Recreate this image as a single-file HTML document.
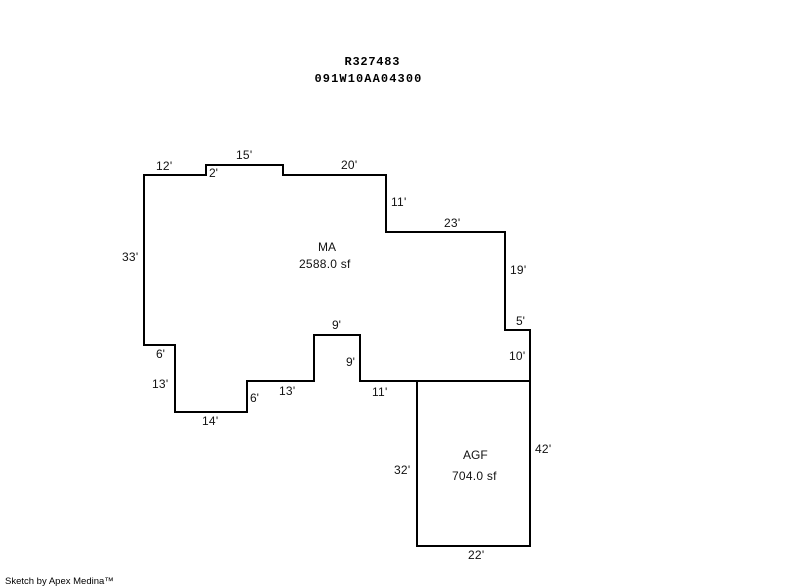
<!DOCTYPE html>
<html>
<head>
<meta charset="utf-8">
<style>
html,body{margin:0;padding:0;background:#fff;width:800px;height:587px;overflow:hidden}
svg{display:block}
text{font-family:"Liberation Sans",Arial,sans-serif;font-size:12px;fill:#111}
.t{font-family:"Liberation Mono",monospace;font-size:12px;font-weight:bold;letter-spacing:1.1px;fill:#000}
.a{letter-spacing:.25px}
.s{font-size:9.5px;fill:#000}
</style>
</head>
<body>
<svg width="800" height="587" viewBox="0 0 800 587" xmlns="http://www.w3.org/2000/svg">
<g fill="none" stroke="#000" stroke-width="2" shape-rendering="crispEdges">
<path d="M144 175H206V165H283V175H386V232H505V330H530V381H360V335H314V381H247V412H175V345H144Z"/>
<path d="M417 381H530V546H417Z"/>
</g>
<text class="t" x="344.5" y="65" textLength="56">R327483</text>
<text class="t" x="314.5" y="82">091W10AA04300</text>
<text class="a" x="156" y="170">12'</text>
<text class="a" x="236" y="159">15'</text>
<text x="209" y="177">2'</text>
<text class="a" x="341" y="169">20'</text>
<text class="a" x="391" y="206">11'</text>
<text class="a" x="444" y="227">23'</text>
<text class="a" x="510" y="274">19'</text>
<text x="516" y="325">5'</text>
<text class="a" x="509" y="360">10'</text>
<text class="a" x="122" y="261">33'</text>
<text x="156" y="358">6'</text>
<text class="a" x="152" y="388">13'</text>
<text class="a" x="202" y="425">14'</text>
<text x="250" y="402">6'</text>
<text class="a" x="279" y="395">13'</text>
<text x="332" y="329">9'</text>
<text x="346" y="366">9'</text>
<text class="a" x="372" y="396">11'</text>
<text x="318" y="251">MA</text>
<text class="a" x="299" y="268">2588.0 sf</text>
<text x="463" y="459">AGF</text>
<text class="a" x="452" y="480">704.0 sf</text>
<text class="a" x="394" y="474">32'</text>
<text class="a" x="535" y="453">42'</text>
<text class="a" x="468" y="559">22'</text>
<text class="s" x="5" y="584">Sketch by Apex Medina™</text>
</svg>
</body>
</html>
